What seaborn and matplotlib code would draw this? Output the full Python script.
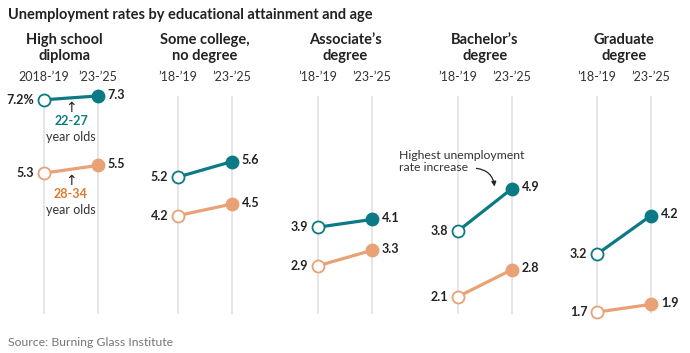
import matplotlib
matplotlib.use("Agg")
import matplotlib.pyplot as plt
import seaborn as sns
import pandas as pd
import numpy as np

# %% data
categories = ["High school\ndiploma", "Some college,\nno degree", "Associate’s\ndegree",
              "Bachelor’s\ndegree", "Graduate\ndegree"]
periods = ["’18-’19", "’23-’25"]
first_period_hs = "2018-’19"
young_1819 = [7.2, 5.2, 3.9, 3.8, 3.2]
young_2325 = [7.3, 5.6, 4.1, 4.9, 4.2]
older_1819 = [5.3, 4.2, 2.9, 2.1, 1.7]
older_2325 = [5.5, 4.5, 3.3, 2.8, 1.9]

rows = []
for i, cat in enumerate(categories):
    for grp, a, b in [("22-27", young_1819, young_2325), ("28-34", older_1819, older_2325)]:
        rows.append({"cat": cat, "group": grp, "period": 0, "rate": a[i]})
        rows.append({"cat": cat, "group": grp, "period": 1, "rate": b[i]})
df = pd.DataFrame(rows)

# %% style
sns.set_theme(style="white")
plt.rcParams['font.family'] = ['Lato', 'DejaVu Sans']
TEAL = "#0b7a85"
ORANGE = "#e9a176"
ORANGE_TXT = "#e07a30"
palette = {"22-27": TEAL, "28-34": ORANGE}
TXT = "#222222"

W, H = 690, 353
fig = plt.figure(figsize=(W / 100, H / 100), dpi=100)

x_first = [44, 178, 318, 458, 597]  # pixel x of first column in each panel
gap = 54
top_px, bot_px = 94, 314

for i, cat in enumerate(categories):
    x1 = x_first[i]
    ax = fig.add_axes([(x1 - gap / 2) / W, 1 - bot_px / H, 2 * gap / W, (bot_px - top_px) / H])
    d = df[df["cat"] == cat]
    ax.vlines([0, 1], 1.65, 7.3, color="#e4e4e4", lw=1.3, zorder=0)
    sns.lineplot(data=d, x="period", y="rate", hue="group", palette=palette,
                 lw=2.3, legend=False, ax=ax, zorder=2)
    for grp, col in palette.items():
        g = d[d["group"] == grp]
        ax.scatter(g["period"].iloc[:1], g["rate"].iloc[:1], s=75, facecolor="white",
                   edgecolor=col, lw=1.3, zorder=3, clip_on=False)
        ax.scatter(g["period"].iloc[1:], g["rate"].iloc[1:], s=75, facecolor=col,
                   edgecolor=col, lw=1.3, zorder=3, clip_on=False)
        v0, v1 = g["rate"].iloc[0], g["rate"].iloc[1]
        lab0 = f"{v0:.1f}%" if (i == 0 and grp == "22-27") else f"{v0:.1f}"
        ax.annotate(lab0, (0, v0), xytext=(-7, 0), textcoords="offset points",
                    ha="right", va="center", fontsize=9, fontweight="bold", color=TXT)
        ax.annotate(f"{v1:.1f}", (1, v1), xytext=(7, 1), textcoords="offset points",
                    ha="left", va="center", fontsize=9, fontweight="bold", color=TXT)

    ax.set_xlim(-0.5, 1.5)
    ax.set_ylim(1.65, 7.35)
    ax.set_xticks([0, 1], [first_period_hs if i == 0 else periods[0], periods[1]])
    ax.xaxis.set_ticks_position("top")
    ax.tick_params(axis="x", length=0, pad=8, labelsize=9, colors="#333333")
    ax.set_yticks([])
    ax.set_xlabel("")
    ax.set_ylabel("")
    sns.despine(ax=ax, left=True, bottom=True, top=True, right=True)
    hx = 0.38 if i == 0 else 0.5
    ax.text(hx, 7.35 + (94 - 48) / 38.5, cat, ha="center", va="center", fontsize=10.5,
            fontweight="bold", color=TXT, linespacing=1.15, clip_on=False)

    if i == 0:
        for v, grp, col in [(7.2, "22-27", TEAL), (5.3, "28-34", ORANGE_TXT)]:
            ax.text(0.5, v - 0.2, "↑", ha="center", va="center", fontsize=10,
                    color=TXT, family=["DejaVu Sans"])
            ax.text(0.5, v - 0.55, grp, ha="center", va="center", fontsize=9,
                    fontweight="bold", color=col)
            ax.text(0.5, v - 0.96, "year olds", ha="center", va="center", fontsize=9,
                    color="#333333")
    if i == 3:
        ax.text(-1.09, 5.6, "Highest unemployment\nrate increase", ha="left", va="center",
                fontsize=8.8, color="#333333", linespacing=1.2, clip_on=False)
        ax.annotate("", xy=(0.68, 4.88), xytext=(0.29, 5.43),
                    arrowprops=dict(arrowstyle="-|>", color=TXT, lw=0.9,
                                    connectionstyle="arc3,rad=-0.45", mutation_scale=7))

fig.text(8 / W, 1 - 15 / H, "Unemployment rates by educational attainment and age",
         ha="left", va="center", fontsize=10.5, fontweight="bold", color=TXT)
fig.text(8 / W, 1 - 342 / H, "Source: Burning Glass Institute", ha="left", va="center",
         fontsize=8.8, color="#777777")

fig.savefig("out.png", dpi=100)
